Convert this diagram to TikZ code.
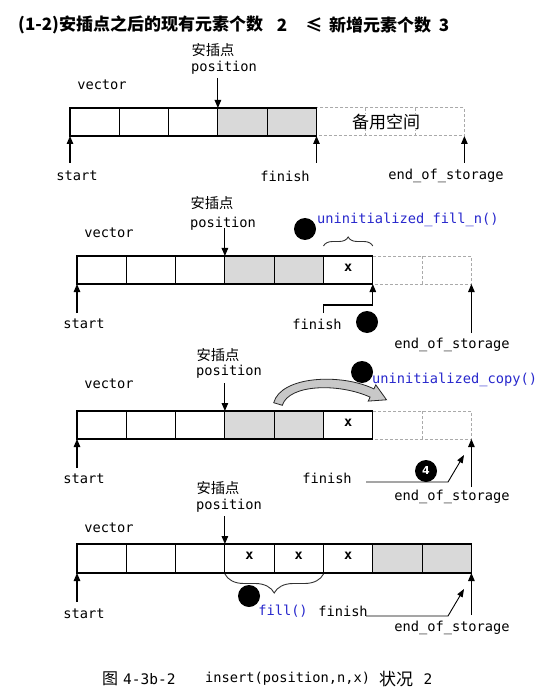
\documentclass[tikz,border=0pt]{standalone}
\usepackage{fontspec}
\setmainfont{DejaVu Sans}
\setmonofont{DejaVu Sans Mono}
\newfontfamily\cjk{Noto Sans CJK SC}
\usetikzlibrary{arrows.meta,decorations.pathreplacing,calc}
\definecolor{codeblue}{RGB}{40,40,205}
\definecolor{cellshade}{RGB}{217,217,217}
\definecolor{dashgray}{RGB}{170,170,170}
\definecolor{arcgray}{RGB}{200,200,200}
\tikzset{
  cellbox/.style={draw=black,line width=1.1pt},
  dashcell/.style={draw=dashgray,line width=1pt,dash pattern=on 3pt off 2pt},
  ptr/.style={-{Triangle[length=8pt,width=6.5pt]},line width=1.1pt},
  thinptr/.style={-{Triangle[length=8pt,width=6pt]},line width=0.9pt},
  mono/.style={font=\ttfamily\fontsize{13.7}{16}\selectfont,inner sep=0pt},
  monob/.style={font=\ttfamily\fontsize{13.7}{16}\selectfont,inner sep=0pt,text=codeblue},
  cjklab/.style={font=\cjk\fontsize{14.3}{16}\selectfont,inner sep=0pt},
  titlefont/.style={font=\cjk\bfseries\fontsize{17}{19}\selectfont,inner sep=0pt},
  ball/.style={circle,fill=black,minimum size=22pt,inner sep=0pt},
  xmark/.style={font=\ttfamily\bfseries\fontsize{13.5}{15}\selectfont,inner sep=0pt},
  bracestyle/.style={draw=black!80,line width=0.9pt,decorate}
}
\begin{document}
\begin{tikzpicture}[x=1pt,y=-1pt]
\useasboundingbox (0,0) rectangle (552,700);
\fill[white] (0,0) rectangle (552,700);

% ---------- title
\node[titlefont,anchor=west] (t1) at (18,25) {(1-2)安插点之后的现有元素个数};
\node[titlefont] (t2) at (282,25) {2};
\node[titlefont] (t3) at (314,25) {≤};
\node[titlefont,anchor=west] (t4) at (329,25) {新增元素个数};
\node[titlefont] (t5) at (444,25) {3};

% =========== diagram 1 ===========
\fill[cellshade] (217.9,108) rectangle (316.5,136);
\draw[dashcell] (316.5,108) rectangle (464.4,136);
\draw[dashcell] (365.8,108) -- (365.8,136);
\draw[dashcell] (415.1,108) -- (415.1,136);
\draw[cellbox] (70,108) rectangle (316.5,136);
\foreach \x in {119.3,168.6,217.9,267.2} \draw[cellbox] (\x,108) -- (\x,136);
\node[font=\cjk\fontsize{17}{19}\selectfont,inner sep=0pt,fill=white] (spare) at (386,122) {备用空间};

\node[cjklab] (ins1) at (213,50) {安插点};
\node[mono] (pos1) at (224,68) {position};
\node[mono] (vec1) at (102,85) {vector};
\coordinate (p1a) at (217.9,78);  \coordinate (p1b) at (217.9,108);
\draw[ptr] (p1a) -- (p1b);
\node[mono] (st1) at (77,176) {start};
\node[mono] (fi1) at (285,176) {finish};
\node[mono] (eos1) at (446,176) {end\_of\_storage};
\coordinate (s1a) at (70,163);    \coordinate (s1b) at (70,136);
\coordinate (f1a) at (316.5,163); \coordinate (f1b) at (316.5,136);
\coordinate (e1a) at (464.4,163); \coordinate (e1b) at (464.4,136);
\draw[ptr] (s1a) -- (s1b);
\draw[ptr] (f1a) -- (f1b);
\draw[ptr] (e1a) -- (e1b);

% =========== diagram 2 ===========
\fill[cellshade] (224.9,256) rectangle (323.5,284);
\draw[dashcell] (372.8,256) rectangle (471.4,284);
\draw[dashcell] (422.1,256) -- (422.1,284);
\draw[cellbox] (77,256) rectangle (372.8,284);
\foreach \x in {126.3,175.6,224.9,274.2,323.5} \draw[cellbox] (\x,256) -- (\x,284);
\node[xmark] (x21) at (348.2,268) {x};

\node[cjklab] (ins2) at (212,203) {安插点};
\node[mono] (pos2) at (223,224) {position};
\node[mono] (vec2) at (109,233) {vector};
\coordinate (p2a) at (224.9,228); \coordinate (p2b) at (224.9,256);
\draw[ptr] (p2a) -- (p2b);
\draw[bracestyle,decoration={brace,amplitude=9pt}] (323.5,246) -- (372.8,246);
\node[ball] (b21) at (305,229) {};
\node[monob,anchor=west] (ufn) at (317,220) {uninitialized\_fill\_n()};
\node[mono] (st2) at (84,324) {start};
\node[mono] (fi2) at (317,324) {finish};
\node[ball] (b22) at (367,322) {};
\node[mono] (eos2) at (452,345) {end\_of\_storage};
\coordinate (s2a) at (77,313);    \coordinate (s2b) at (77,284);
\coordinate (f2a) at (323.5,313); \coordinate (f2k) at (323.5,305);
\coordinate (f2j) at (372.8,305); \coordinate (f2b) at (372.8,284);
\coordinate (e2a) at (471.4,333); \coordinate (e2b) at (471.4,284);
\draw[ptr] (s2a) -- (s2b);
\draw[ptr] (f2a) -- (f2k) -- (f2j) -- (f2b);
\draw[ptr] (e2a) -- (e2b);

% =========== diagram 3 ===========
\fill[cellshade] (224.9,411) rectangle (323.5,439);
\draw[dashcell] (372.8,411) rectangle (471.4,439);
\draw[dashcell] (422.1,411) -- (422.1,439);
\draw[cellbox] (77,411) rectangle (372.8,439);
\foreach \x in {126.3,175.6,224.9,274.2,323.5} \draw[cellbox] (\x,411) -- (\x,439);
\node[xmark] (x31) at (348.2,423) {x};

\node[cjklab] (ins3) at (218,355) {安插点};
\node[mono] (pos3) at (229,372) {position};
\node[mono] (vec3) at (109,384) {vector};
\coordinate (p3a) at (224.9,383); \coordinate (p3b) at (224.9,411);
\draw[ptr] (p3a) -- (p3b);
% curved block arrow
\filldraw[fill=arcgray,draw=black!85,line width=0.8pt]
  (273.7,402.7) .. controls (281,376) and (341,373) .. (373.9,388.9)
  -- (375.8,384.9) -- (386.5,399.8) -- (368.2,401.1) -- (370.1,397.1)
  .. controls (339,383) and (289,384) .. (282.3,405.3) -- cycle;
\node[ball] (b31) at (362,372) {};
\node[monob,anchor=west] (ucp) at (372,380) {uninitialized\_copy()};
\node[mono] (st3) at (84,479) {start};
\node[mono] (fi3) at (327,478) {finish};
\node[ball] (b32) at (426,471) {};
\node[font=\bfseries\fontsize{11}{12}\selectfont,text=white,inner sep=0pt] (n4) at (426,470) {4};
\node[mono] (eos3) at (452,497) {end\_of\_storage};
\coordinate (s3a) at (77,468);    \coordinate (s3b) at (77,439);
\coordinate (e3a) at (471.4,487); \coordinate (e3b) at (471.4,439);
\coordinate (f3a) at (366,482);   \coordinate (f3k) at (448,482);
\coordinate (f3b) at (464,455);
\draw[ptr] (s3a) -- (s3b);
\draw[ptr] (e3a) -- (e3b);
\draw[thinptr] (f3a) -- (f3k) -- (f3b);

% =========== diagram 4 ===========
\fill[cellshade] (372.8,544) rectangle (471.4,573);
\draw[cellbox] (77,544) rectangle (471.4,573);
\foreach \x in {126.3,175.6,224.9,274.2,323.5,372.8,422.1} \draw[cellbox] (\x,544) -- (\x,573);
\node[xmark] (x41) at (249.5,556) {x};
\node[xmark] (x42) at (298.8,556) {x};
\node[xmark] (x43) at (348.2,556) {x};

\node[cjklab] (ins4) at (218,488) {安插点};
\node[mono] (pos4) at (229,506) {position};
\node[mono] (vec4) at (109,528) {vector};
\coordinate (p4a) at (224.9,516); \coordinate (p4b) at (224.9,544);
\draw[ptr] (p4a) -- (p4b);
\draw[bracestyle,decoration={brace,amplitude=19pt}] (323.5,574) -- (224.9,574);
\node[ball] (b41) at (249,596) {};
\node[monob] (fil) at (283,611) {fill()};
\node[mono] (fi4) at (343,611) {finish};
\node[mono] (st4) at (84,614) {start};
\node[mono] (eos4) at (452,628) {end\_of\_storage};
\coordinate (s4a) at (77,602);    \coordinate (s4b) at (77,573);
\coordinate (e4a) at (471.4,615); \coordinate (e4b) at (471.4,573);
\coordinate (f4a) at (366,616);   \coordinate (f4k) at (448,616);
\coordinate (f4b) at (464,589);
\draw[ptr] (s4a) -- (s4b);
\draw[ptr] (e4a) -- (e4b);
\draw[thinptr] (f4a) -- (f4k) -- (f4b);

% ---------- caption
\node[font=\cjk\fontsize{16}{18}\selectfont,inner sep=0pt] (cap1) at (110,679) {图};
\node[font=\ttfamily\fontsize{14.5}{16}\selectfont,inner sep=0pt,anchor=west] (cap2) at (123,679) {4-3b-2};
\node[mono,anchor=west] (cap3) at (205,679) {insert(position,n,x)};
\node[font=\cjk\fontsize{17}{19}\selectfont,inner sep=0pt] (cap4) at (396,679) {状况};
\node[font=\ttfamily\fontsize{14.5}{16}\selectfont,inner sep=0pt] (cap5) at (428,679) {2};
\end{tikzpicture}
\end{document}
